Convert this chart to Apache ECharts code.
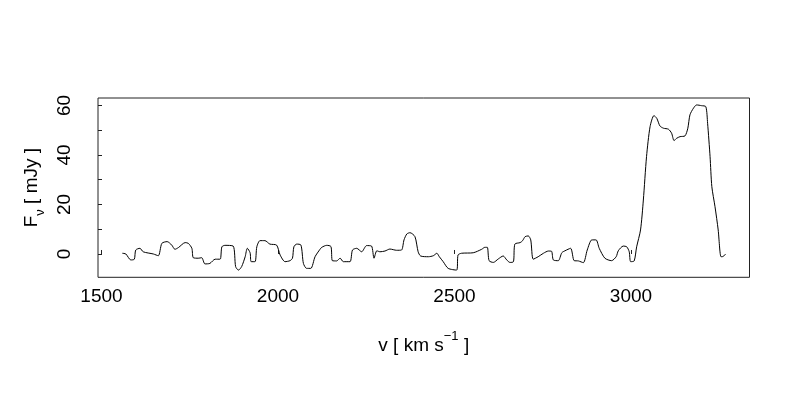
<!DOCTYPE html>
<html>
<head>
<meta charset="utf-8">
<script src="https://cdn.jsdelivr.net/npm/echarts@6/dist/echarts.min.js"></script>
<style>html,body{margin:0;padding:0;background:#fff}#c{width:800px;height:400px}</style>
</head>
<body>
<div id="c"></div>
<script>
var velocity = [1559,1569,1583,1593,1597,1609,1618,1647,1661,1671,1686,1699,1708,1718,1737,1746,1756,1760,1774,1784,1793,1807,1822,1836,1841,1850,1873,1880,1888,1897,1907,1913,1921,1924,1935,1940,1949,1963,1977,1996,2006,2020,2034,2041,2045,2053,2065,2072,2081,2093,2105,2119,2124,2138,2150,2154,2166,2176,2185,2204,2211,2223,2237,2251,2265,2272,2280,2289,2303,2317,2336,2350,2357,2365,2374,2388,2397,2404,2426,2440,2450,2457,2468,2482,2506,2510,2520,2553,2577,2586,2593,2598,2610,2624,2638,2648,2657,2667,2671,2686,2693,2700,2709,2716,2723,2737,2752,2766,2775,2780,2794,2804,2813,2829,2839,2851,2865,2876,2889,2901,2910,2926,2945,2958,2964,2978,2988,2995,2999,3009,3016,3027,3035,3044,3054,3065,3073,3082,3092,3106,3115,3122,3129,3139,3153,3161,3167,3177,3186,3200,3212,3217,3224,3229,3238,3247,3255,3261,3268];
var flux = [0.3,0.0,-2.4,-2.1,1.6,2.3,0.9,0.0,-0.7,4.3,5.0,3.6,1.9,2.6,4.6,4.3,2.3,-1.5,-1.7,-1.5,-4.0,-3.8,-2.1,-2.1,2.9,3.5,3.2,-5.1,-6.5,-5.1,-1.1,2.3,0.5,-3.1,-3.1,2.9,5.4,5.4,4.0,3.6,-0.4,-3.1,-2.7,-1.7,2.9,4.0,3.6,-3.8,-5.8,-5.8,-1.1,1.9,2.7,3.5,3.0,-2.7,-2.8,-1.7,-3.1,-3.1,1.6,2.3,0.9,3.4,3.2,-1.7,1.3,0.9,1.2,2.0,1.5,1.6,5.7,8.1,8.6,7.0,0.9,-0.8,-1.1,-0.7,0.3,-1.1,-3.1,-5.8,-6.5,-0.4,0.3,0.5,1.9,2.7,2.7,-2.7,-3.4,-2.0,-0.8,-2.4,-3.4,-3.1,4.0,4.6,5.4,7.0,7.3,5.7,-2.1,-1.1,0.3,1.2,1.1,-2.4,-2.7,0.5,1.3,2.3,-2.7,-2.8,-3.5,1.6,5.7,5.7,2.3,-1.7,-2.7,-1.1,1.3,3.2,2.9,0.9,-3.1,-2.8,2.9,9.7,21.8,39.3,51.4,55.9,54.8,51.7,50.8,50.4,48.8,45.8,46.7,47.4,47.7,50.8,56.2,58.9,60.2,59.9,59.5,52.8,39.3,27.2,19.1,9.7,-1.1,-1.0,0.0];
var xTicks = [1500, 2000, 2500, 3000];
var yTicks = [0, 10, 20, 30, 40, 50, 60];
var yLabels = [0, 20, 40, 60];

var pts = velocity.map(function (v, i) { return [v, flux[i]]; });
var FONT = 'Liberation Sans, Arial, Helvetica, sans-serif';
var FS = 19;
var chart = echarts.init(document.getElementById('c'), null, {renderer: 'canvas'});
chart.setOption({
  animation: false,
  backgroundColor: '#fff',
  grid: {left: 98, top: 98, width: 651.5, height: 179.3, show: true, borderColor: '#222', borderWidth: 1, backgroundColor: 'transparent', outerBoundsMode: 'none', containLabel: false},
  xAxis: {
    type: 'value', min: 1490.1, max: 3335.7,
    axisLine: {show: false},
    splitLine: {show: false},
    axisTick: {show: true, inside: true, length: 4, customValues: xTicks, lineStyle: {color: '#222'}},
    axisLabel: {customValues: xTicks, color: '#000', fontSize: FS, fontFamily: FONT, margin: 10,
      formatter: function (v) { return String(v); }},
    name: '{t|v [ km s}{sup|\u22121}{t| ]}',
    nameLocation: 'middle', nameGap: 53,
    nameTextStyle: {color: '#000', fontFamily: FONT, fontSize: FS,
      rich: {t: {fontSize: FS, fontFamily: FONT, color: '#000', verticalAlign: 'bottom', lineHeight: 25},
             sup: {fontSize: 13, fontFamily: FONT, color: '#000', verticalAlign: 'top', lineHeight: 25}}}
  },
  yAxis: {
    type: 'value', min: -9.41, max: 63.0,
    axisLine: {show: false},
    splitLine: {show: false},
    axisTick: {show: true, inside: true, length: 4, customValues: yTicks, lineStyle: {color: '#222'}},
    axisLabel: {customValues: yLabels, rotate: 90, color: '#000', fontSize: FS, fontFamily: FONT, margin: 24,
      formatter: function (v) { return String(v); }},
    name: '{t|F}{sub|\u03bd}{t| [ mJy ]}',
    nameLocation: 'middle', nameRotate: 90, nameGap: 50,
    nameTextStyle: {color: '#000', fontFamily: FONT, fontSize: FS,
      rich: {t: {fontSize: FS, fontFamily: FONT, color: '#000', verticalAlign: 'top', lineHeight: 25},
             sub: {fontSize: 13, fontFamily: FONT, color: '#000', verticalAlign: 'bottom', lineHeight: 25}}}
  },
  series: [{
    type: 'line', data: pts, showSymbol: false, smooth: 0.25,
    lineStyle: {color: '#000', width: 1}
  }]
});
</script>
</body>
</html>
